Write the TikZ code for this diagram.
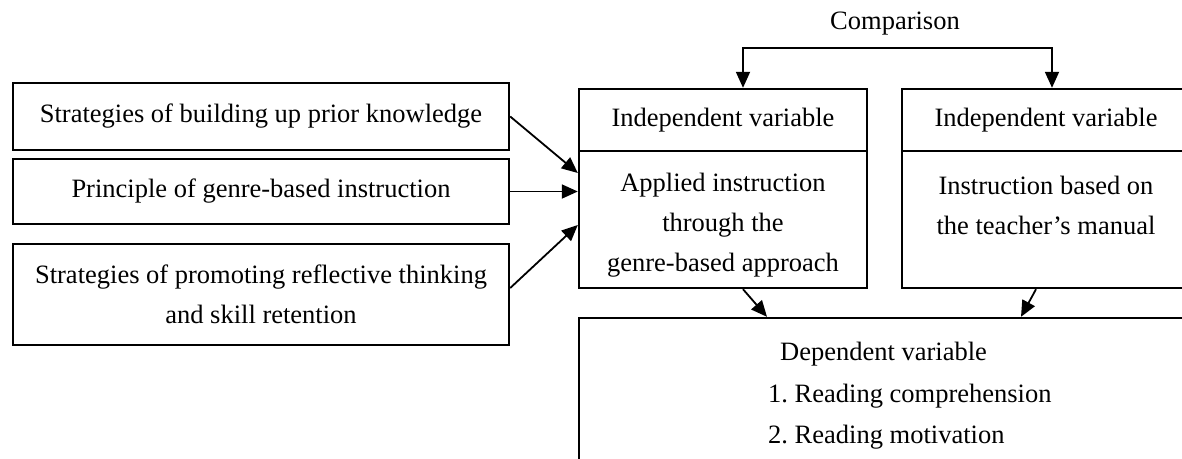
\documentclass[tikz,border=0pt]{standalone}
\usepackage{fontspec}
\setmainfont{Liberation Serif}
\usetikzlibrary{arrows.meta,calc}
\begin{document}
\begin{tikzpicture}[x=1pt,y=-1pt,
  box/.style={draw,line width=2.4pt,inner sep=0pt,align=center,font=\fontsize{26.5}{40}\selectfont},
  txt/.style={inner sep=0pt,align=center,font=\fontsize{26.5}{40}\selectfont},
  arr/.style={line width=1.8pt,-{Triangle[length=16pt,width=14pt]}},
  arrboth/.style={line width=1.8pt,{Triangle[length=16pt,width=14pt]}-{Triangle[length=16pt,width=14pt]}}]
\useasboundingbox (0,0) rectangle (1182,458);
\clip (0,0) rectangle (1182,458);
\fill[white] (0,0) rectangle (1182,458);
% left boxes
\node[box,minimum width=496pt,minimum height=67pt] (b1) at (261,116.5) {Strategies of building up prior knowledge};
\node[box,minimum width=496pt,minimum height=65pt] (b2) at (261,191.5) {Principle of genre-based instruction};
\node[box,minimum width=496pt,minimum height=101pt] (b3) at (261,294.5) {Strategies of promoting reflective thinking\\and skill retention};
% middle box
\node[box,minimum width=288pt,minimum height=62pt] (mt) at (723,120) {Independent variable};
\node[box,minimum width=288pt,minimum height=137pt] (mb) at (723,219.5) {};
\node[txt] (mbt) at (723,225) {Applied instruction\\through the\\genre-based approach};
% right box
\node[box,minimum width=288pt,minimum height=62pt] (rt) at (1046,120) {Independent variable};
\node[box,minimum width=288pt,minimum height=137pt] (rb) at (1046,219.5) {};
\node[txt] (rbt) at (1046,205) {Instruction based on\\the teacher’s manual};
% dependent box
\node[box,minimum width=621pt,minimum height=152pt] (dep) at (889.5,394) {};
\node[txt,anchor=base west] (d1) at (780,360) {Dependent variable};
\node[txt,anchor=base west] (d2) at (768,402) {1.\ Reading comprehension};
\node[txt,anchor=base west] (d3) at (768,443) {2.\ Reading motivation};
% comparison
\node[txt,anchor=base] (cmp) at (895,29) {Comparison};
\coordinate (cl) at (743,48);
\coordinate (cr) at (1052,48);
\draw[arrboth] (cl |- mt.north) -- (cl) -- (cr) -- (cr |- rt.north);
% arrows
\draw[arr] (b1.east) -- ([yshift=46.5pt]mb.west);
\draw[arr] (b2.east) -- (b2.east -| mb.west);
\draw[arr] ([yshift=6.5pt]b3.east) -- ([yshift=-5.5pt]mb.west);
\draw[arr] ([xshift=20pt]mb.south) -- ([xshift=-122.5pt]dep.north);
\draw[arr] ([xshift=-10pt]rb.south) -- ([xshift=131.5pt]dep.north);
\end{tikzpicture}
\end{document}
